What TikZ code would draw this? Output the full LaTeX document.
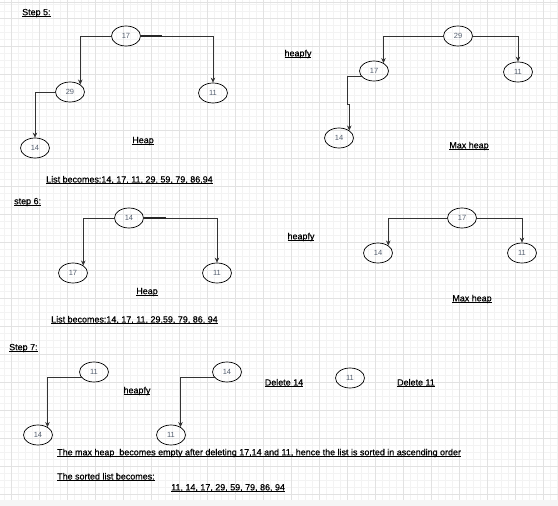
\documentclass[tikz,border=0pt]{standalone}
\usepackage{fontspec}
\setmainfont{Liberation Sans}
\newfontfamily\lblfont[FakeBold=0.6]{Liberation Sans}
\usetikzlibrary{shapes.geometric,arrows.meta}
\definecolor{gridminor}{HTML}{F3F3F3}
\definecolor{gridmajor}{HTML}{E2E2E2}
\definecolor{edgecol}{HTML}{333333}
\definecolor{numcol}{HTML}{556070}
\newcommand{\myul}[1]{\setbox0\hbox{#1}\rlap{\rule[-1.5pt]{\wd0}{0.7pt}}\box0}
\tikzset{
  hnode/.style={draw=black, line width=0.7pt, ellipse, minimum width=29pt, minimum height=20pt, inner sep=0pt, font=\fontsize{7.5}{8}\selectfont, text=numcol},
  edge/.style={draw=edgecol, line width=0.7pt, -{Stealth[length=5pt,width=4.5pt]}},
  thickpart/.style={draw=black!85, line width=1.6pt},
  lbl/.style={inner sep=0pt, font=\lblfont\fontsize{8.95}{10}\selectfont, text=black},
}
\begin{document}
\begin{tikzpicture}[x=1pt,y=-1pt]
\useasboundingbox (0,0) rectangle (558,506);
\fill[white] (0,0) rectangle (558,506);
% grid
\foreach \x in {4,11,...,558} \draw[gridminor, line width=0.5pt] (\x,0) -- (\x,500);
\foreach \y in {4,11,...,500} \draw[gridminor, line width=0.5pt] (0,\y) -- (558,\y);
\foreach \x in {11,39,...,558} \draw[gridmajor, line width=0.7pt] (\x,0) -- (\x,500);
\foreach \y in {18,46,...,500} \draw[gridmajor, line width=0.7pt] (0,\y) -- (558,\y);
\draw[gridmajor, line width=0.8pt] (0,2.5) -- (558,2.5);
\fill[gray!8] (0,500) rectangle (558,506);

% ---------- Step 5 ----------
\node[lbl, anchor=west] (t5) at (22,13) {\myul{Step 5:}};
\node[hnode] (a17) at (126,36) {17};
\node[hnode] (a29) at (70,92) {29};
\node[hnode] (a11) at (213,93) {11};
\node[hnode] (a14) at (35,148) {14};
\coordinate (a17t) at (162,36);
\draw[edge] (a17.west) -| (a29.36);
\draw[edge] (a17.east) -| (a11.north);
\draw[thickpart] (a17.east) -- (a17t);
\draw[edge] (a29.west) -| (a14.north);
\node[lbl] (h5) at (143,141) {\myul{Heap}};
\node[lbl, anchor=west] (l5) at (46,180) {\myul{List becomes:14, 17, 11, 29, 59, 79, 86,94}};

\node[lbl] (hp5) at (298,54) {\myul{heapfy}};
\node[hnode] (b29) at (458,36) {29};
\node[hnode] (b17) at (374,71) {17};
\node[hnode] (b11) at (518,72) {11};
\node[hnode] (b14) at (339,138) {14};
\coordinate (bj) at (347,104);
\draw[edge] (b29.west) -| (b17.40);
\draw[edge] (b29.east) -| (b11.north);
\draw[edge] (b17.205) -| (bj) -| (b14.36);
\node[lbl] (mh5) at (469,146) {\myul{Max heap}};

% ---------- Step 6 ----------
\node[lbl, anchor=west] (t6) at (14,202) {\myul{step 6:}};
\node[hnode] (c14) at (129,218) {14};
\node[hnode] (c17) at (73,273) {17};
\node[hnode] (c11) at (217,273) {11};
\coordinate (c14t) at (166,218);
\draw[edge] (c14.west) -| (c17.36);
\draw[edge] (c14.east) -| (c11.north);
\draw[thickpart] (c14.east) -- (c14t);
\node[lbl] (h6) at (147,292) {\myul{Heap}};
\node[lbl, anchor=west] (l6) at (51,320) {\myul{List becomes:14, 17, 11, 29,59, 79, 86, 94}};

\node[lbl] (hp6) at (301,237) {\myul{heapfy}};
\node[hnode] (d17) at (462,218) {17};
\node[hnode] (d14) at (378,253) {14};
\node[hnode] (d11) at (522,253) {11};
\draw[edge] (d17.west) -| (d14.36);
\draw[edge] (d17.east) -| (d11.north);
\node[lbl] (mh6) at (472,299) {\myul{Max heap}};

% ---------- Step 7 ----------
\node[lbl, anchor=west] (t7) at (9,348) {\myul{Step 7:}};
\node[hnode] (e11) at (94,372) {11};
\node[hnode] (e14) at (38,435) {14};
\draw[edge] (e11.205) -| (e14.40);
\node[lbl] (hp7) at (137,391) {\myul{heapfy}};
\node[hnode] (f14) at (227,372) {14};
\node[hnode] (f11) at (171,435) {11};
\draw[edge] (f14.205) -| (f11.40);
\node[lbl] (del14) at (284,383) {\myul{Delete 14}};
\node[hnode] (g11) at (350,378) {11};
\node[lbl] (del11) at (416,383) {\myul{Delete 11}};
\node[lbl, anchor=west] (sent) at (57,453) {\myul{The max heap\ \ becomes empty after deleting 17,14 and 11, hence the list is sorted in ascending order}};
\node[lbl, anchor=west] (sl) at (57,477) {\myul{The sorted list becomes:}};
\node[lbl, anchor=west] (sv) at (171,488) {\myul{11, 14, 17, 29, 59, 79, 86, 94}};
\end{tikzpicture}
\end{document}
